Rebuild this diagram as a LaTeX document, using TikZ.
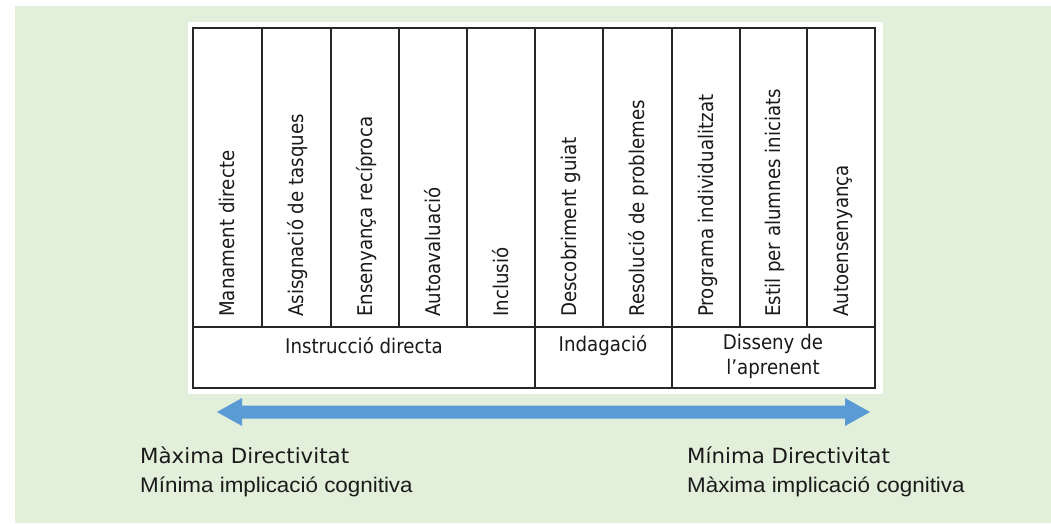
\documentclass[tikz,border=0pt]{standalone}
\usepackage{fontspec}
\setmainfont{DejaVu Sans}
\newfontfamily\tabfont[FakeStretch=0.9]{DejaVu Sans}
\newfontfamily\capfont[FakeStretch=1.02]{DejaVu Sans}
\newfontfamily\subfont[FakeStretch=1.06]{Liberation Sans}
\definecolor{bggreen}{HTML}{E2EFDA}
\definecolor{arrowblue}{HTML}{5B9BD5}
\definecolor{txt}{HTML}{1A1A1A}
\tikzset{
  coltext/.style={rotate=90, anchor=base west, inner sep=0pt, font=\tabfont\fontsize{20.3}{22}\selectfont, text=txt},
  headtext/.style={anchor=center, inner sep=0pt, align=center, font=\tabfont\fontsize{20.3}{25}\selectfont, text=txt},
  captext/.style={anchor=base west, inner sep=0pt, font=\capfont\fontsize{21}{22}\selectfont, text=txt},
  subtext/.style={anchor=base west, inner sep=0pt, font=\subfont\fontsize{21.2}{22}\selectfont, text=txt},
  grid/.style={line width=1.2bp, black!85},
  frame/.style={line width=2bp, black!85},
}
\begin{document}
\begin{tikzpicture}[x=1bp,y=-1bp]
\useasboundingbox (0,0) rectangle (1051,524);
\fill[white] (0,0) rectangle (1051,524);
\fill[bggreen] (15,6) rectangle (1051,523);
\fill[white] (188,22) rectangle (883,394);
% columns
\foreach \x in {262,331,399,467,603,740,807}{
  \draw[grid] (\x,28) -- (\x,327);
}
\draw[grid] (193,327) -- (875,327);
\draw[frame] (535,28) -- (535,388);
\draw[grid] (672,28) -- (672,388);
\draw[frame] (193,28) rectangle (875,388);
% column texts
\node[coltext] (c1) at (234.5,317) {Manament directe};
\node[coltext] (c2) at (303.5,317) {Asisgnació de tasques};
\node[coltext] (c3) at (372,317) {Ensenyança recíproca};
\node[coltext] (c4) at (440,317) {Autoavaluació};
\node[coltext] (c5) at (508,317) {Inclusió};
\node[coltext] (c6) at (576,317) {Descobriment guiat};
\node[coltext] (c7) at (644.5,317) {Resolució de problemes};
\node[coltext] (c8) at (713,317) {Programa individualitzat};
\node[coltext] (c9) at (780.5,317) {Estil per alumnes iniciats};
\node[coltext] (c10) at (848,317) {Autoensenyança};
% header texts
\node[headtext] (h1) at (364,346) {Instrucció directa};
\node[headtext] (h2) at (603,346) {Indagació};
\node[headtext, anchor=north] (h3) at (773,334) {Disseny de\\l’aprenent};
% arrow
\fill[arrowblue] (217,412) -- (242,398) -- (242,405.5) -- (845,405.5) -- (845,398)
  -- (870,412) -- (845,426) -- (845,418.5) -- (242,418.5) -- (242,426) -- cycle;
% captions
\node[captext] (l1) at (140,463) {Màxima Directivitat};
\node[subtext] (l2) at (140,492) {Mínima implicació cognitiva};
\node[captext] (r1) at (687,463) {Mínima Directivitat};
\node[subtext] (r2) at (687,492) {Màxima implicació cognitiva};
\end{tikzpicture}
\end{document}
